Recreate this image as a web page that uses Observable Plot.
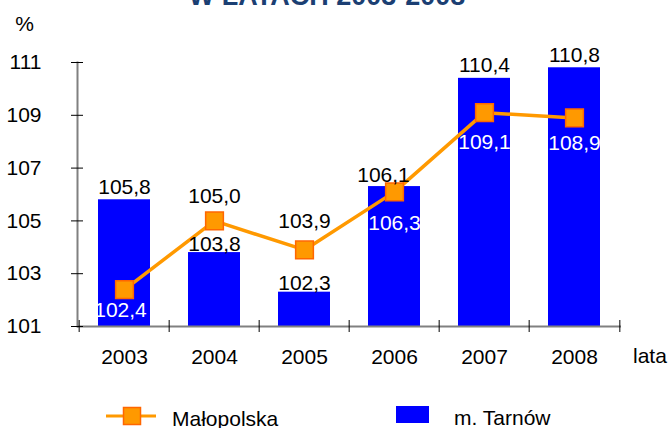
<!DOCTYPE html>
<html><head><meta charset="utf-8">
<script src="https://cdn.jsdelivr.net/npm/d3@7"></script>
<script src="https://cdn.jsdelivr.net/npm/@observablehq/plot@0.6"></script>
<style>html,body{margin:0;padding:0;background:#fff;} svg{display:block}</style>
</head><body><div id="chart"></div>
<script>
const years = ["2003", "2004", "2005", "2006", "2007", "2008"];
const tarnow = [105.8, 103.8, 102.3, 106.3, 110.4, 110.8];
const malopolska = [102.4, 105.0, 103.9, 106.1, 109.1, 108.9];
const yTicks = [101, 103, 105, 107, 109, 111];
const titleText = "W LATACH 2003-2008";
const seriesNames = ["Małopolska", "m. Tarnów"];
const yUnit = "%";
const xUnit = "lata";

const data = years.map((year, i) => ({year, tarnow: tarnow[i], malopolska: malopolska[i]}));
const fmt = v => v.toFixed(1).replace(".", ",");

const W = 669, H = 428, mL = 77, mR = 48, mT = 62, mB = 102;
const halfStep = (W - mL - mR) / years.length / 2;
const FS = 21;
const FONT = "'Liberation Sans', Arial, sans-serif";

// label placement styles (pixel offsets, as arranged in the original)
const barLabelStyle = {
  "2003": {dy: -13}, "2004": {dy: -8}, "2005": {dy: -9},
  "2006": {dy: 37, fill: "white"}, "2007": {dy: -13}, "2008": {dy: -13}
};
const lineLabelStyle = {
  "2003": {dy: 21, dx: -4, fill: "white"}, "2004": {dy: -25}, "2005": {dy: -29},
  "2006": {dy: -17, dx: -11}, "2007": {dy: 30, fill: "white"}, "2008": {dy: 25, fill: "white"}
};
const labelMarks = (key, styles) => years.map(yr => Plot.text(
  data.filter(d => d.year === yr),
  {x: "year", y: key, text: d => fmt(d[key]), fill: styles[yr].fill || "black",
   dx: styles[yr].dx || 0, dy: styles[yr].dy, fontSize: FS}
));

const plot = Plot.plot({
  width: W, height: H,
  marginLeft: mL, marginRight: mR, marginTop: mT, marginBottom: mB,
  style: {fontFamily: FONT, fontSize: FS + "px", color: "black", background: "white", overflow: "visible"},
  x: {type: "band", domain: years, paddingInner: 0.42, paddingOuter: 0.21, label: null},
  y: {domain: [101, 111], label: null},
  marks: [
    Plot.barY(data, {x: "year", y1: 101, y2: "tarnow", fill: "#0000FF"}),
    Plot.frame({anchor: "left", stroke: "#808080", strokeWidth: 2}),
    Plot.ruleY([101], {stroke: "#808080", strokeWidth: 2}),
    Plot.axisY({ticks: yTicks, tickSize: 12, dx: 6, tickPadding: 30, tickFormat: d => String(d), color: "black", label: null}),
    Plot.axisX({tickSize: 0, tickPadding: 23, color: "black", label: null}),
    Plot.axisX({tickSize: 12, dx: -halfStep, dy: -6, tickFormat: () => "", color: "black", label: null}),
    Plot.axisX({ticks: [years[years.length - 1]], tickSize: 12, dx: halfStep, dy: -6, tickFormat: () => "", color: "black", label: null}),
    Plot.line(data, {x: "year", y: "malopolska", stroke: "#FF9900", strokeWidth: 3.5}),
    Plot.dot(data, {x: "year", y: "malopolska", symbol: "square", r: 10, fill: "#FF9900", stroke: "#FF6600", strokeWidth: 1.5}),
    ...labelMarks("tarnow", barLabelStyle),
    ...labelMarks("malopolska", lineLabelStyle)
  ]
});

const svg = d3.select(plot);
const addText = (x, y, txt, anchor = "start") => svg.append("text")
  .attr("x", x).attr("y", y).attr("text-anchor", anchor)
  .attr("font-family", FONT).attr("font-size", FS).attr("fill", "black").text(txt);

addText(327, 5, titleText, "middle").attr("font-weight", "bold").attr("font-size", 27).attr("fill", "#1B3F73");
addText(24.5, 24, yUnit, "middle").attr("dy", "0.32em");
addText(633, 363, xUnit);

// legend
svg.append("line").attr("x1", 106).attr("x2", 156).attr("y1", 416).attr("y2", 416)
  .attr("stroke", "#FF9900").attr("stroke-width", 3);
svg.append("rect").attr("x", 123.5).attr("y", 407.5).attr("width", 17).attr("height", 17)
  .attr("fill", "#FF9900").attr("stroke", "#FF6600").attr("stroke-width", 1.5);
addText(172, 425.5, seriesNames[0]);
svg.append("rect").attr("x", 396).attr("y", 406).attr("width", 33).attr("height", 17).attr("fill", "#0000FF");
addText(454, 425, seriesNames[1]);

document.getElementById("chart").appendChild(plot);
</script>
</body></html>
